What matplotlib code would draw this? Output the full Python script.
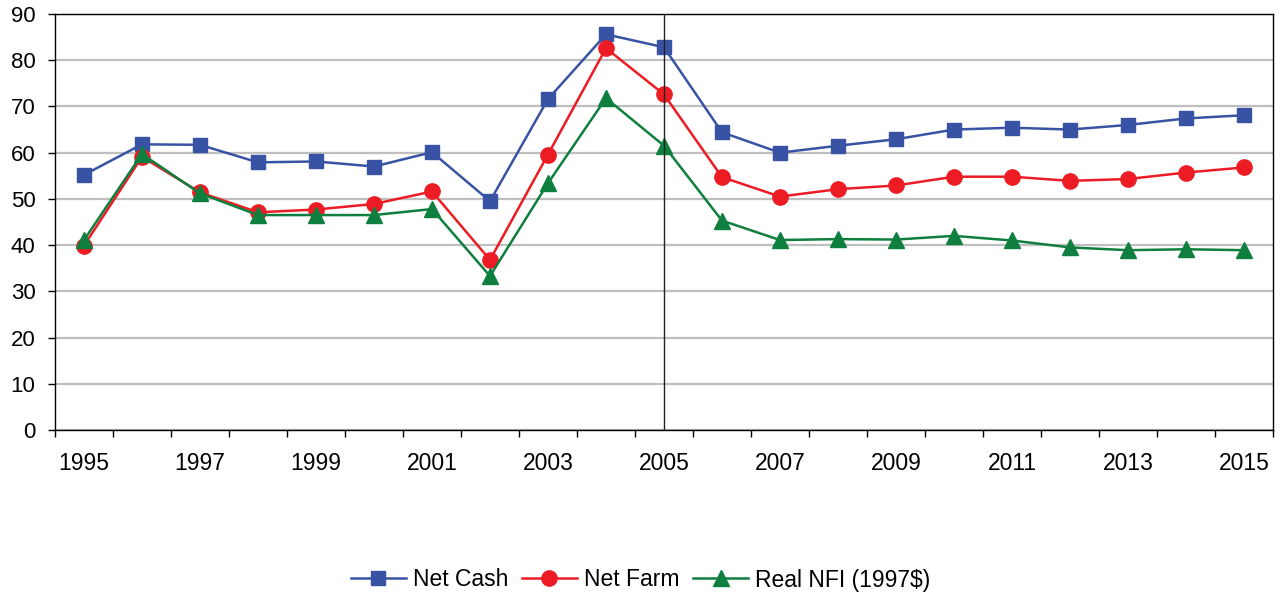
import matplotlib
matplotlib.use('Agg')
import matplotlib.pyplot as plt

plt.rcParams['font.family'] = ['Liberation Sans', 'DejaVu Sans']

# data
years = list(range(1995, 2016))
net_cash = [55.2, 61.8, 61.7, 57.9, 58.1, 57.0, 60.1, 49.5, 71.6, 85.6, 82.8,
            64.4, 60.0, 61.5, 62.9, 65.0, 65.4, 65.0, 66.0, 67.4, 68.1]
net_farm = [39.9, 59.1, 51.4, 47.1, 47.7, 48.9, 51.6, 36.8, 59.6, 82.6, 72.6,
            54.7, 50.5, 52.1, 52.9, 54.8, 54.8, 53.9, 54.3, 55.7, 56.8]
real_nfi = [41.1, 59.7, 51.2, 46.5, 46.5, 46.5, 47.8, 33.3, 53.4, 71.8, 61.5,
            45.3, 41.1, 41.3, 41.2, 42.0, 41.0, 39.5, 38.9, 39.1, 38.9]
marker_year = 2005

fig = plt.figure(figsize=(12.81, 5.98), dpi=100)
fig.patch.set_facecolor('white')
ax = fig.add_axes([55 / 1281, (598 - 430) / 598, (1273 - 55) / 1281, 416 / 598])

x = list(range(len(years)))
ax.plot(x, net_cash, color='#3953A4', lw=1.8, marker='s', ms=10.5,
        label='Net Cash', zorder=3)
ax.plot(x, net_farm, color='#ED1C24', lw=1.8, marker='o', ms=11,
        label='Net Farm', zorder=4)
ax.plot(x, real_nfi, color='#0E7F3E', lw=1.8, marker='^', ms=11,
        label='Real NFI (1997$)', zorder=5)

ax.axvline(years.index(marker_year), color='#222222', lw=1.0, zorder=6)

ax.set_xlim(-0.5, len(years) - 0.5)
ax.set_ylim(0, 90)
ax.set_yticks(range(0, 91, 10))
ax.yaxis.grid(True, color='#BFBFBF', lw=1.6)
ax.set_axisbelow(True)

# category axis: ticks between categories, labels on every other year
ax.set_xticks([i - 0.5 for i in range(len(years) + 1)])
ax.set_xticklabels([])
ax.set_xticks(x[::2], minor=True)
ax.set_xticklabels([str(y) for y in years[::2]], minor=True)
ax.tick_params(axis='x', which='major', direction='out', length=5, width=1)
ax.tick_params(axis='x', which='minor', length=0, pad=16, labelsize=16.5)
ax.tick_params(axis='y', direction='out', length=5, width=1, labelsize=16, pad=9)

for s in ax.spines.values():
    s.set_color('black')
    s.set_linewidth(1.0)

fig.legend(loc='center', bbox_to_anchor=(0.5, (598 - 580) / 598),
           ncol=3, frameon=False, fontsize=16.5, handlelength=2.4,
           handletextpad=0.3, columnspacing=0.6)

fig.savefig('out.png', dpi=100, facecolor='white')
